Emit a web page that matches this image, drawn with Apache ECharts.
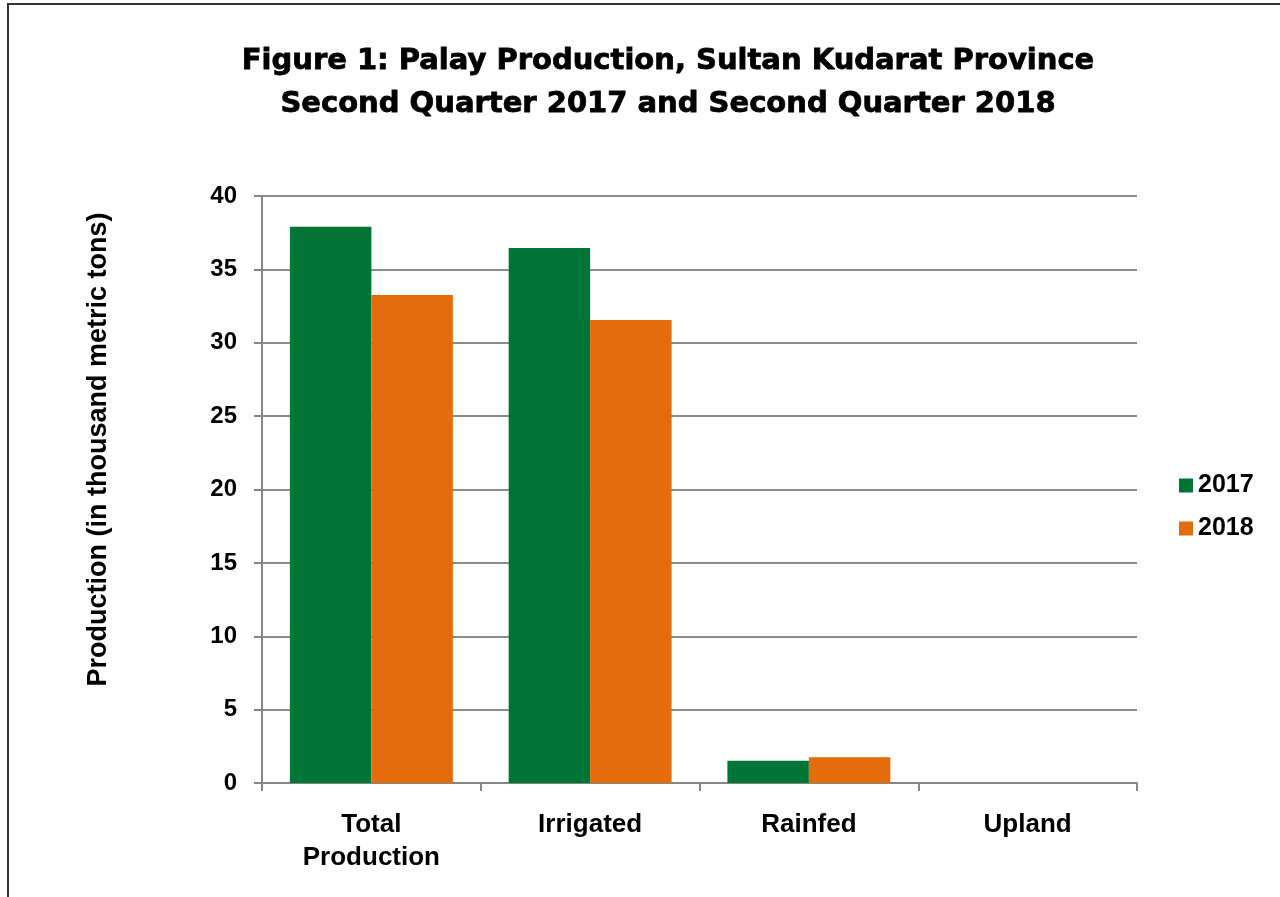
<!DOCTYPE html>
<html>
<head>
<meta charset="utf-8">
<script src="https://cdn.jsdelivr.net/npm/echarts@6/dist/echarts.min.js"></script>
<style>
html,body{margin:0;padding:0;background:#fff;}
#frame{position:absolute;left:7px;top:3px;width:1300px;height:920px;border-left:2px solid #333;border-top:2px solid #333;box-sizing:border-box;}
#chart{position:absolute;left:0;top:0;width:1280px;height:897px;}
</style>
</head>
<body>
<div id="frame"></div>
<div id="chart"></div>
<script>
const categories = ['Total\nProduction', 'Irrigated', 'Rainfed', 'Upland'];
const values2017 = [37.9, 36.45, 1.52, 0];
const values2018 = [33.25, 31.55, 1.75, 0];
const seriesNames = ['2017', '2018'];
const yTicks = { min: 0, max: 40, interval: 5 };

const chart = echarts.init(document.getElementById('chart'));
const font = 'Liberation Sans, Arial, sans-serif';
chart.setOption({
  animation: false,
  backgroundColor: 'transparent',
  title: {
    text: 'Figure 1: Palay Production, Sultan Kudarat Province\nSecond Quarter 2017 and Second Quarter 2018',
    left: 663, top: 35, textAlign: 'center',
    textStyle: { fontFamily: 'DejaVu Sans', fontWeight: 'bold', fontSize: 29, lineHeight: 43, color: '#000',
      textBorderColor: '#000', textBorderWidth: 0.8 }
  },
  legend: {
    orient: 'vertical', left: 1174, top: 468,
    itemWidth: 14, itemHeight: 14, itemGap: 18,
    icon: 'rect',
    textStyle: { fontFamily: font, fontWeight: 'bold', fontSize: 25, color: '#000' },
    data: seriesNames
  },
  grid: { left: 262, right: 143, top: 196, bottom: 114 },
  xAxis: {
    type: 'category', data: categories,
    axisLine: { lineStyle: { color: '#868686', width: 2 } },
    axisTick: { show: true, length: 8, lineStyle: { color: '#868686', width: 2 } },
    axisLabel: { fontFamily: font, fontWeight: 'bold', fontSize: 26, color: '#000', margin: 25, lineHeight: 33 }
  },
  yAxis: {
    type: 'value', min: yTicks.min, max: yTicks.max, interval: yTicks.interval,
    name: 'Production (in thousand metric tons)', nameLocation: 'middle', nameGap: 150,
    nameTextStyle: { fontFamily: font, fontWeight: 'bold', fontSize: 27, color: '#000', padding: [0, 0, 0, 80] },
    axisLine: { show: true, lineStyle: { color: '#868686', width: 2 } },
    axisTick: { show: true, length: 8, lineStyle: { color: '#868686', width: 2 } },
    axisLabel: { fontFamily: font, fontWeight: 'bold', fontSize: 24, color: '#000', margin: 25 },
    splitLine: { lineStyle: { color: '#8c8c8c', width: 2 } }
  },
  series: [
    { name: seriesNames[0], type: 'bar', data: values2017, barGap: '0%', barCategoryGap: '25.5%',
      itemStyle: { color: '#007535' } },
    { name: seriesNames[1], type: 'bar', data: values2018, barGap: '0%', barCategoryGap: '25.5%',
      itemStyle: { color: '#E46C0A' } }
  ]
});
</script>
</body>
</html>
